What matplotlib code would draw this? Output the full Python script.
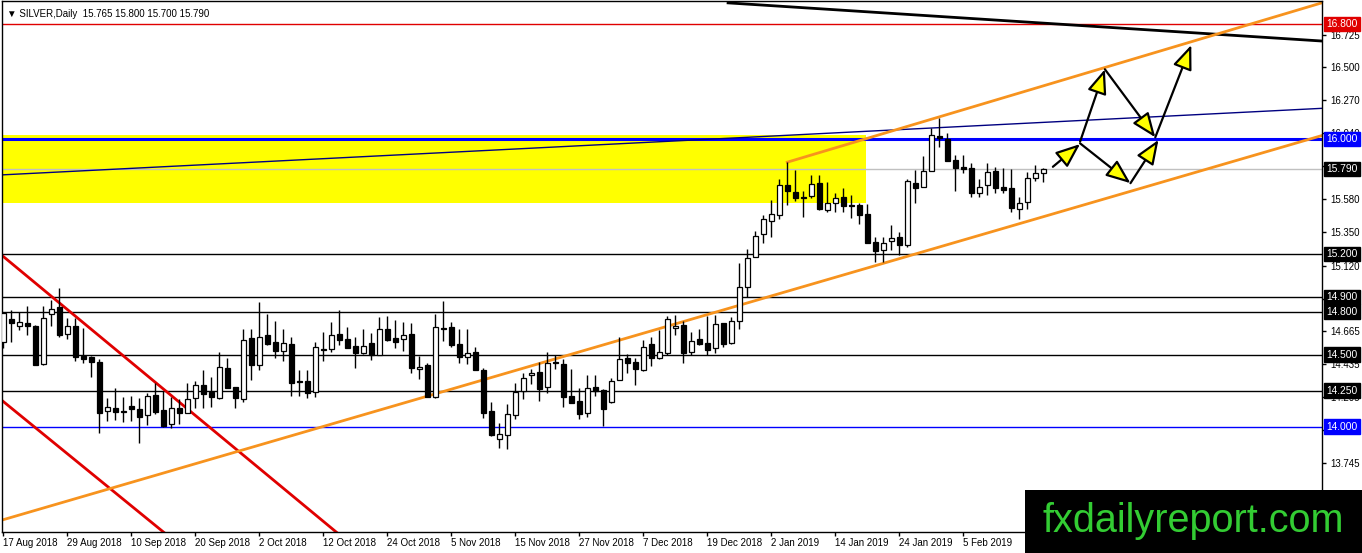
import numpy as np
import matplotlib
matplotlib.use("Agg")
import matplotlib.pyplot as plt
from matplotlib.patches import Rectangle

plt.rcParams['font.family'] = ['Liberation Sans', 'DejaVu Sans']

# daily candles, bar index 0 = 17 Aug 2018
opens = [14.591, 14.746, 14.698, 14.721, 14.700, 14.438, 14.783, 14.830, 14.642, 14.700,
         14.491, 14.482, 14.450, 14.107, 14.130, 14.107, 14.144, 14.123, 14.079, 14.220,
         14.116, 14.016, 14.132, 14.097, 14.197, 14.287, 14.243, 14.197, 14.406, 14.274,
         14.190, 14.614, 14.429, 14.637, 14.589, 14.529, 14.575, 14.320, 14.318, 14.243,
         14.540, 14.542, 14.644, 14.607, 14.561, 14.515, 14.584, 14.498, 14.682, 14.614,
         14.612, 14.644, 14.399, 14.429, 14.209, 14.688, 14.695, 14.575, 14.482, 14.519,
         14.394, 14.109, 13.917, 13.940, 14.079, 14.248, 14.357, 14.380, 14.274, 14.452,
         14.436, 14.213, 14.178, 14.097, 14.274, 14.255, 14.174, 14.322, 14.475, 14.450,
         14.394, 14.575, 14.480, 14.515, 14.684, 14.707, 14.517, 14.607, 14.580, 14.545,
         14.719, 14.580, 14.737, 14.969, 15.178, 15.340, 15.428, 15.470, 15.681, 15.635,
         15.598, 15.605, 15.693, 15.507, 15.558, 15.595, 15.542, 15.542, 15.479, 15.284,
         15.229, 15.291, 15.317, 15.264, 15.692, 15.664, 15.780, 16.021, 15.998, 15.854,
         15.803, 15.796, 15.623, 15.681, 15.780, 15.664, 15.657, 15.511, 15.565, 15.727,
         15.765]
highs = [14.800, 14.811, 14.800, 14.839, 14.710, 14.839, 14.881, 14.962, 14.753, 14.753,
         14.684, 14.491, 14.473, 14.202, 14.267, 14.209, 14.213, 14.197, 14.236, 14.301,
         14.248, 14.209, 14.192, 14.301, 14.318, 14.394, 14.348, 14.519, 14.475, 14.274,
         14.677, 14.677, 14.869, 14.783, 14.735, 14.677, 14.621, 14.394, 14.394, 14.589,
         14.661, 14.730, 14.811, 14.691, 14.621, 14.677, 14.649, 14.765, 14.769, 14.742,
         14.730, 14.723, 14.491, 14.440, 14.783, 14.876, 14.730, 14.677, 14.677, 14.552,
         14.406, 14.174, 14.023, 14.155, 14.306, 14.376, 14.399, 14.452, 14.519, 14.501,
         14.473, 14.399, 14.267, 14.359, 14.359, 14.260, 14.336, 14.621, 14.503, 14.475,
         14.603, 14.626, 14.672, 14.770, 14.777, 14.737, 14.661, 14.681, 14.770, 14.777,
         14.723, 14.765, 15.136, 15.234, 15.361, 15.472, 15.576, 15.720, 15.839, 15.785,
         15.642, 15.751, 15.751, 15.703, 15.623, 15.658, 15.612, 15.553, 15.549, 15.317,
         15.321, 15.402, 15.356, 15.720, 15.785, 15.882, 16.075, 16.144, 16.040, 15.889,
         15.889, 15.836, 15.720, 15.836, 15.808, 15.796, 15.789, 15.595, 15.773, 15.819,
         15.800]
lows = [14.545, 14.591, 14.672, 14.637, 14.425, 14.431, 14.700, 14.621, 14.612, 14.459,
        14.440, 14.348, 13.958, 14.042, 14.046, 14.035, 14.039, 13.889, 14.012, 14.090,
        14.000, 13.988, 14.019, 14.093, 14.127, 14.127, 14.139, 14.190, 14.267, 14.127,
        14.169, 14.325, 14.394, 14.568, 14.480, 14.459, 14.216, 14.216, 14.197, 14.209,
        14.459, 14.522, 14.568, 14.549, 14.406, 14.506, 14.464, 14.498, 14.598, 14.545,
        14.529, 14.371, 14.329, 14.204, 14.197, 14.598, 14.552, 14.440, 14.436, 14.394,
        14.058, 13.935, 13.850, 13.842, 14.051, 14.195, 14.297, 14.181, 14.232, 14.399,
        14.139, 14.167, 14.051, 14.070, 14.213, 14.005, 14.162, 14.322, 14.371, 14.292,
        14.389, 14.422, 14.468, 14.498, 14.635, 14.445, 14.498, 14.568, 14.498, 14.510,
        14.552, 14.575, 14.677, 14.900, 15.178, 15.280, 15.317, 15.442, 15.542, 15.572,
        15.461, 15.588, 15.507, 15.496, 15.496, 15.496, 15.449, 15.409, 15.275, 15.143,
        15.147, 15.229, 15.194, 15.248, 15.558, 15.664, 15.780, 15.947, 15.850, 15.641,
        15.766, 15.600, 15.595, 15.611, 15.623, 15.627, 15.495, 15.442, 15.511, 15.711,
        15.700]
closes = [14.788, 14.719, 14.726, 14.698, 14.431, 14.753, 14.821, 14.640, 14.702, 14.487,
          14.473, 14.452, 14.097, 14.139, 14.104, 14.100, 14.125, 14.070, 14.213, 14.104,
          14.005, 14.127, 14.093, 14.190, 14.287, 14.227, 14.204, 14.413, 14.267, 14.197,
          14.603, 14.427, 14.626, 14.575, 14.529, 14.584, 14.306, 14.308, 14.236, 14.552,
          14.531, 14.635, 14.603, 14.549, 14.515, 14.561, 14.498, 14.677, 14.603, 14.591,
          14.635, 14.406, 14.417, 14.204, 14.695, 14.679, 14.568, 14.482, 14.515, 14.394,
          14.097, 13.942, 13.949, 14.086, 14.243, 14.336, 14.371, 14.264, 14.445, 14.440,
          14.209, 14.167, 14.088, 14.267, 14.246, 14.125, 14.318, 14.468, 14.445, 14.403,
          14.556, 14.475, 14.517, 14.746, 14.700, 14.510, 14.598, 14.573, 14.533, 14.712,
          14.575, 14.733, 14.974, 15.171, 15.328, 15.442, 15.479, 15.681, 15.642, 15.588,
          15.593, 15.686, 15.512, 15.553, 15.588, 15.535, 15.535, 15.472, 15.275, 15.224,
          15.280, 15.310, 15.264, 15.708, 15.657, 15.780, 16.028, 16.005, 15.850, 15.796,
          15.789, 15.623, 15.669, 15.773, 15.657, 15.646, 15.518, 15.558, 15.727, 15.762,
          15.790]

date_ticks = [0, 8, 16, 24, 32, 40, 48, 56, 64, 72, 80, 88, 96, 104, 112, 120]
date_labels = ['17 Aug 2018', '29 Aug 2018', '10 Sep 2018', '20 Sep 2018', '2 Oct 2018',
               '12 Oct 2018', '24 Oct 2018', '5 Nov 2018', '15 Nov 2018', '27 Nov 2018',
               '7 Dec 2018', '19 Dec 2018', '2 Jan 2019', '14 Jan 2019', '24 Jan 2019',
               '5 Feb 2019']
price_ticks = [16.725, 16.500, 16.270, 16.040, 15.810, 15.580, 15.350, 15.120, 14.890,
               14.665, 14.435, 14.205, 13.975, 13.745, 13.515]

# horizontal levels: price, colour, width
levels = [(16.8, '#e00000', 1.0), (16.0, '#0000ff', 2.2), (15.2, 'black', 1.0),
          (14.9, 'black', 1.0), (14.8, 'black', 1.0), (14.5, 'black', 1.0),
          (14.25, 'black', 1.0), (14.0, '#0000ff', 1.0)]
last_price = 15.790
tag_levels = [(16.8, '#e00000'), (16.0, '#0000ff'), (15.79, 'black'), (15.2, 'black'),
              (14.9, 'black'), (14.8, 'black'), (14.5, 'black'), (14.25, 'black'),
              (14.0, '#0000ff')]

# drawn objects (bar index, price)
zone_x = (-1.0, 107.9)
zone_y = (15.553, 16.030)
black_trend = [(90.6, 16.947), (165.0, 16.681)]
chan_low = [(-0.41, 13.346), (165.0, 16.027)]
chan_up = [(98.0, 15.839), (168.0, 17.000)]
blue_slant = [(-0.41, 15.750), (165.0, 16.214)]
red_a = [(-0.41, 15.202), (45.0, 13.111)]
red_b = [(-0.41, 14.193), (22.0, 13.177)]
arrows = [((131.2, 15.807), (134.6, 15.965)),
          ((134.6, 15.982), (137.7, 16.485)),
          ((137.7, 16.485), (144.0, 16.012)),
          ((144.0, 16.012), (148.5, 16.654)),
          ((134.6, 15.970), (140.9, 15.693)),
          ((140.9, 15.693), (144.4, 15.994))]

W, H = 1362, 553
fig = plt.figure(figsize=(W / 100, H / 100), dpi=100)
ax = fig.add_axes([2 / W, 21 / H, 1320 / W, 531 / H])
ax.set_xlim(-0.16, 164.84)
ax.set_ylim(13.267, 16.960)

ax.add_patch(Rectangle((zone_x[0], zone_y[0]), zone_x[1] - zone_x[0], zone_y[1] - zone_y[0],
                       facecolor='#ffff00', edgecolor='none', zorder=0))

for p, c, w in levels:
    ax.axhline(p, color=c, lw=w, zorder=1)
ax.axhline(last_price, color='#c0c0c0', lw=1.0, zorder=1)

ax.plot(*zip(*blue_slant), color='#000080', lw=1.0, zorder=1)
ax.plot(*zip(*black_trend), color='black', lw=2.0, zorder=1)
ax.plot(*zip(*red_a), color='#e00000', lw=2.0, zorder=1)
ax.plot(*zip(*red_b), color='#e00000', lw=2.0, zorder=1)
ax.plot(*zip(*chan_low), color='#f7931e', lw=2.0, zorder=1)
ax.plot(*zip(*chan_up), color='#f7931e', lw=2.0, zorder=1)

o = np.array(opens)
h = np.array(highs)
l = np.array(lows)
c = np.array(closes)
x = np.arange(len(o))
ax.vlines(x, l, h, color='black', lw=1.0, zorder=2)
bottom = np.minimum(o, c)
height = np.maximum(np.abs(c - o), 0.006)
up = c >= o
ax.bar(x[up], height[up], bottom=bottom[up], width=0.6, color='white',
       edgecolor='black', lw=0.9, zorder=3)
ax.bar(x[~up], height[~up], bottom=bottom[~up], width=0.6, color='black',
       edgecolor='black', lw=0.9, zorder=3)

for (x0, y0), (x1, y1) in arrows:
    ax.annotate('', xy=(x1, y1), xytext=(x0, y0),
                arrowprops=dict(arrowstyle='-|>,head_length=1.5,head_width=0.6',
                                fc='#ffff00', ec='black', lw=1.6,
                                shrinkA=0, shrinkB=0), zorder=4)

# axes look
for s in ax.spines.values():
    s.set_color('black')
    s.set_linewidth(1.0)
ax.yaxis.tick_right()
ax.set_yticks(price_ticks)
ax.set_yticklabels(['%.3f' % v for v in price_ticks])
ax.set_xticks(date_ticks)
ax.set_xticklabels(date_labels)
ax.tick_params(axis='both', labelsize=7.0, length=3, width=1, color='black',
               labelcolor='black', direction='out')
ax.tick_params(axis='y', pad=3)
ax.tick_params(axis='x', pad=1)
for lbl in ax.get_xticklabels():
    lbl.set_ha('left')

for p, col in tag_levels:
    ax.annotate('%.3f' % p, xy=(1.0, p), xycoords=('axes fraction', 'data'),
                xytext=(3.2, 0), textcoords='offset points', va='center', ha='left',
                fontsize=7.4, color='white', zorder=10, annotation_clip=False,
                bbox=dict(boxstyle='square,pad=0.22', fc=col, ec=col))

ax.text(0.004, 0.985, '\u25bc SILVER,Daily  15.765 15.800 15.700 15.790',
        transform=ax.transAxes, fontsize=7.0, va='top', ha='left',
        family=['Liberation Sans', 'DejaVu Sans'], zorder=10)

fig.patches.append(Rectangle((1025 / W, 0), 337 / W, 63 / H, transform=fig.transFigure,
                             facecolor='black', edgecolor='none', zorder=20))
fig.text(1193 / W, 32 / H, 'fxdailyreport.com', color='#33cc33', fontsize=28.5,
         ha='center', va='center', zorder=21)

fig.savefig('out.png', dpi=100)
